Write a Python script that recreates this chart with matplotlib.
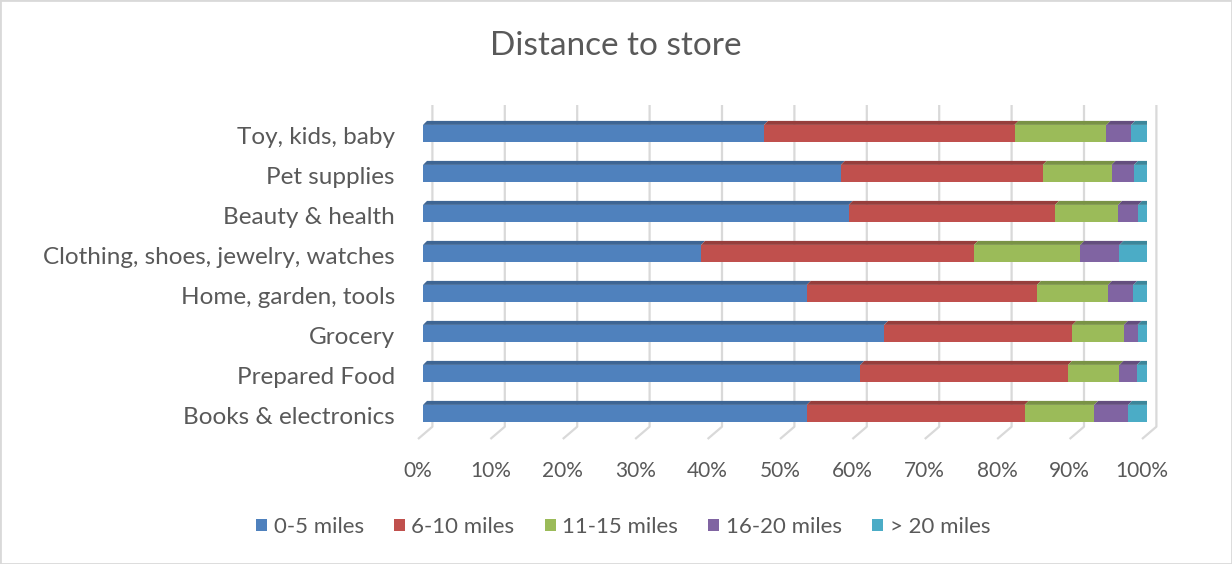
import numpy as np
import matplotlib
matplotlib.use("Agg")
import matplotlib.pyplot as plt
from matplotlib.patches import Polygon, Rectangle
from matplotlib.colors import to_rgb

# Share of shoppers by distance travelled, per store category (percent)
categories = ["Books & electronics", "Prepared Food", "Grocery", "Home, garden, tools",
              "Clothing, shoes, jewelry, watches", "Beauty & health", "Pet supplies",
              "Toy, kids, baby"]
series_names = ["0-5 miles", "6-10 miles", "11-15 miles", "16-20 miles", "> 20 miles"]
miles_0_5 = [53.0, 60.4, 63.7, 53.0, 38.4, 58.8, 57.7, 47.1]
miles_6_10 = [30.1, 28.7, 26.0, 31.8, 37.7, 28.5, 27.9, 34.6]
miles_11_15 = [9.6, 7.1, 7.1, 9.8, 14.7, 8.7, 9.5, 12.7]
miles_16_20 = [4.7, 2.4, 1.9, 3.5, 5.4, 2.8, 3.1, 3.4]
miles_over_20 = [2.6, 1.4, 1.3, 1.9, 3.8, 1.2, 1.8, 2.2]
tick_values = list(range(0, 101, 10))

colors = ["#4F81BD", "#C0504D", "#9BBB59", "#8064A2", "#4BACC6"]
text_color = "#595959"
grid_color = "#D9D9D9"

plt.rcParams["font.family"] = ["Lato", "DejaVu Sans"]

W, H = 1232, 564
fig = plt.figure(figsize=(W / 100, H / 100), dpi=100)
ax = fig.add_axes([423 / W, 1 - 433.3 / H, 724 / W, 320 / H])
ax.set_xlim(0, 100)
ax.set_ylim(-0.5, len(categories) - 0.5)
ax.axis("off")

# pixel -> data unit factors for the fake 3D offsets
px_x = 100 / 724
px_y = len(categories) / 320

data = np.array([miles_0_5, miles_6_10, miles_11_15, miles_16_20, miles_over_20])
data = data / data.sum(axis=0) * 100
y = np.arange(len(categories))
bar_h = 0.42
depth_x, depth_y = 4 * px_x, 4 * px_y


def shade(c, f):
    r, g, b = to_rgb(c)
    return (r * f, g * f, b * f)


# back wall gridlines with a slanted floor edge
wall_top = len(categories) - 0.5 + 8.3 * px_y
wall_bottom = -0.5 + 6.6 * px_y
floor_front = -0.5 - 5.7 * px_y
for t in tick_values:
    xb = t + 9.4 * px_x
    xf = t - 5.0 * px_x
    ax.plot([xb, xb, xf], [wall_top, wall_bottom, floor_front], color=grid_color,
            lw=1.6, solid_capstyle="butt", clip_on=False, zorder=1)
    ax.text(xf, -0.5 - 37.5 * px_y, f"{t}%", ha="center", va="center",
            fontsize=15, color=text_color)

# stacked bars: front faces plus a thin top face and right-hand side face
left = np.zeros(len(categories))
for i, (vals, col) in enumerate(zip(data, colors)):
    ax.barh(y, vals, left=left, height=bar_h, color=col, zorder=3, label=series_names[i])
    for j in range(len(categories)):
        l, r = left[j], left[j] + vals[j]
        top = y[j] + bar_h / 2
        ax.add_patch(Polygon([(l, top), (r, top), (r + depth_x, top + depth_y),
                              (l + depth_x, top + depth_y)], closed=True,
                             facecolor=shade(col, 0.78), edgecolor="none", zorder=3))
        if i == len(data) - 1:
            bot = y[j] - bar_h / 2
            ax.add_patch(Polygon([(r, bot), (r, top), (r + depth_x, top + depth_y),
                                  (r + depth_x, bot + depth_y)], closed=True,
                                 facecolor=shade(col, 0.62), edgecolor="none", zorder=3))
    left += vals

# category labels
for j, name in enumerate(categories):
    ax.text(-28 * px_x, y[j] - 4.0 * px_y, name, ha="right", va="center",
            fontsize=17.5, color=text_color)

fig.text(0.5, 1 - 46 / H, "Distance to store", ha="center", va="center",
         fontsize=24, color=text_color)

handles, labels = ax.get_legend_handles_labels()
fig.legend(handles, labels, loc="center", bbox_to_anchor=(623 / W, 1 - 527 / H),
           ncol=5, frameon=False, fontsize=16, labelcolor=text_color,
           handlelength=0.5, handleheight=0.5, handletextpad=0.3, columnspacing=1.35)

# chart-area border
fig.patches.append(Rectangle((0, 0), 1, 1, transform=fig.transFigure, fill=False,
                             edgecolor=grid_color, lw=2))

fig.savefig("out.png", dpi=100)
